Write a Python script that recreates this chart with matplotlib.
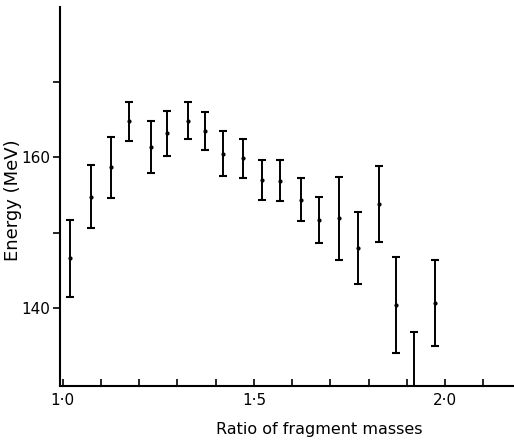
import numpy as np
import matplotlib.pyplot as plt
from matplotlib.ticker import MultipleLocator, FixedLocator, FixedFormatter

# ratio of fragment masses
ratio = [1.020, 1.074, 1.126, 1.173, 1.230, 1.273, 1.328, 1.371, 1.419, 1.471,
         1.521, 1.569, 1.623, 1.671, 1.723, 1.771, 1.826, 1.871, 1.918, 1.974]
# energy in MeV and error bar half-lengths
energy = [146.6, 154.8, 158.7, 164.8, 161.4, 163.2, 164.9, 163.5, 160.5, 159.9,
          157.0, 156.9, 154.4, 151.7, 151.9, 147.9, 153.8, 140.4, 129.4, 140.6]
err = [5.1, 4.2, 4.05, 2.6, 3.5, 2.95, 2.45, 2.5, 3.0, 2.6,
       2.7, 2.75, 2.9, 3.1, 5.5, 4.8, 5.0, 6.35, 7.4, 5.7]

xticks = [1.0, 1.5, 2.0]
xlabels = ["1·0", "1·5", "2·0"]
yticks = [140, 160]
ylabels = ["140", "160"]
yminor = [150, 170]

fig = plt.figure(figsize=(5.14, 4.44), dpi=100)
ax = fig.add_axes([0.1167, 0.1306, 0.8833, 0.8536])

ax.errorbar(ratio, energy, yerr=err, fmt='o', color='black', markersize=2,
            elinewidth=1.4, capsize=3.0, capthick=1.5)

ax.set_xlim(0.993, 2.18)
ax.set_ylim(129.6, 180)

for s in ['top', 'right']:
    ax.spines[s].set_visible(False)
for s in ['left', 'bottom']:
    ax.spines[s].set_linewidth(1.5)

ax.xaxis.set_major_locator(FixedLocator(xticks))
ax.xaxis.set_major_formatter(FixedFormatter(xlabels))
ax.xaxis.set_minor_locator(MultipleLocator(0.1))
ax.yaxis.set_major_locator(FixedLocator(yticks))
ax.yaxis.set_major_formatter(FixedFormatter(ylabels))
ax.yaxis.set_minor_locator(FixedLocator(yminor))

ax.tick_params(axis='x', which='both', direction='in', length=5, width=1.2, labelsize=11, pad=5)
ax.tick_params(axis='y', which='both', direction='out', length=5, width=1.2, labelsize=11, pad=2)

ax.set_xlabel("Ratio of fragment masses", fontsize=11.5)
ax.xaxis.set_label_coords(0.57, -0.095)
ax.set_ylabel("Energy (MeV)", fontsize=13)
ax.yaxis.set_label_coords(-0.084, 0.49)

fig.savefig("out.png", dpi=100)
